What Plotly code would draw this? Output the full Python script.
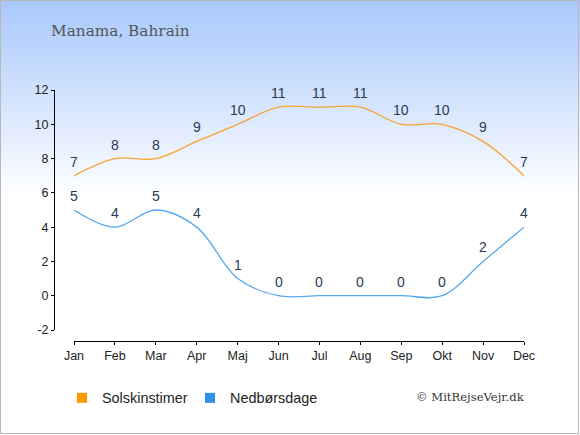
import plotly.graph_objects as go

months = ['Jan', 'Feb', 'Mar', 'Apr', 'Maj', 'Jun', 'Jul', 'Aug', 'Sep', 'Okt', 'Nov', 'Dec']
sun_hours = [7, 8, 8, 9, 10, 11, 11, 11, 10, 10, 9, 7]
rain_days = [5, 4, 5, 4, 1, 0, 0, 0, 0, 0, 2, 4]
y_ticks = [-2, 0, 2, 4, 6, 8, 10, 12]
y_tick_text = ['-2', '0', '2', '4', '6', '8', '10', '12']

W, H = 580, 435
L, R, T, B = 54, 524, 90, 341  # plot area in pixels


def px_x(p):
    return (p - L) / (R - L)


def px_y(p):
    return (B - p) / (B - T)


x = list(range(len(months)))
label_font = dict(family='Liberation Sans, Arial, sans-serif', size=14, color='#2b3a55')

fig = go.Figure()
fig.add_trace(go.Scatter(
    x=x, y=sun_hours, mode='lines', cliponaxis=False,
    line=dict(color='#f8a331', width=1.3, shape='spline', smoothing=1.0),
    showlegend=False, hoverinfo='skip'))
fig.add_trace(go.Scatter(
    x=x, y=rain_days, mode='lines', cliponaxis=False,
    line=dict(color='#55a9f0', width=1.3, shape='spline', smoothing=1.0),
    showlegend=False, hoverinfo='skip'))

# legend entries as squares, one legend box each so they can be placed freely
fig.add_trace(go.Scatter(x=[None], y=[None], mode='markers', name='Solskinstimer',
                         marker=dict(symbol='square', size=10, color='#ff9a00'),
                         legend='legend'))
fig.add_trace(go.Scatter(x=[None], y=[None], mode='markers', name='Nedbørsdage',
                         marker=dict(symbol='square', size=10, color='#2f92e6'),
                         legend='legend2'))

# value labels above each point
annotations = []
for series in (sun_hours, rain_days):
    for xi, v in zip(x, series):
        annotations.append(dict(x=xi, y=v, text=str(v), showarrow=False, yshift=14,
                                xanchor='center', yanchor='middle', font=label_font))

annotations.append(dict(text='© MitRejseVejr.dk', xref='paper', yref='paper',
                        x=px_x(527), y=px_y(397), xanchor='right', yanchor='middle',
                        showarrow=False,
                        font=dict(family='DejaVu Serif, serif', size=11.6, color='#333333')))

# background gradient, light blue at the top fading to white
shapes = []
steps = 50
top_rgb = (168, 200, 252)
for i in range(steps):
    y0 = i * 200 / steps
    y1 = (i + 1) * 200 / steps
    f = i / (steps - 1)
    c = tuple(int(round(top_rgb[k] + (255 - top_rgb[k]) * f)) for k in range(3))
    shapes.append(dict(type='rect', xref='paper', yref='paper', layer='below',
                       x0=px_x(0), x1=px_x(W), y0=px_y(y1 + 0.5), y1=px_y(y0),
                       line=dict(width=0), fillcolor='rgb(%d,%d,%d)' % c))
shapes.append(dict(type='rect', xref='paper', yref='paper', layer='above',
                   x0=px_x(0.5), x1=px_x(W - 1.5), y0=px_y(H - 1.5), y1=px_y(0.5),
                   line=dict(width=1, color='#b8b8b8'), fillcolor='rgba(0,0,0,0)'))

tick_font = dict(family='Liberation Sans, Arial, sans-serif', size=12.5, color='#222222')
legend_font = dict(family='Liberation Sans, Arial, sans-serif', size=14.4, color='#222222')

fig.update_layout(
    width=W, height=H,
    margin=dict(l=L, r=W - R, t=T, b=H - B, pad=0),
    paper_bgcolor='white', plot_bgcolor='rgba(0,0,0,0)',
    title=dict(text='Manama, Bahrain', x=51 / W, xanchor='left', y=1 - 31 / H, yanchor='middle',
               font=dict(family='DejaVu Serif, serif', size=15.3, color='#555555')),
    xaxis=dict(domain=[20 / (R - L), 1], range=[0, 11], anchor='free', position=0,
               tickmode='array', tickvals=x, ticktext=months,
               showline=True, linecolor='black', linewidth=1,
               ticks='outside', ticklen=3, tickcolor='black',
               showgrid=False, zeroline=False, tickfont=tick_font),
    yaxis=dict(domain=[11 / (B - T), 1], range=[-2, 12], anchor='free', position=0,
               tickmode='array', tickvals=y_ticks, ticktext=y_tick_text,
               showline=True, linecolor='black', linewidth=1,
               ticks='outside', ticklen=3, tickcolor='black',
               showgrid=False, zeroline=False, tickfont=tick_font),
    legend=dict(orientation='h', x=px_x(62), xanchor='left', y=px_y(398), yanchor='middle',
                bgcolor='rgba(0,0,0,0)', font=legend_font),
    legend2=dict(orientation='h', x=px_x(190), xanchor='left', y=px_y(398), yanchor='middle',
                 bgcolor='rgba(0,0,0,0)', font=legend_font),
    shapes=shapes,
    annotations=annotations,
)

fig.write_html('out.html', config={'displayModeBar': False},
               post_script="document.body.style.margin='0';")
